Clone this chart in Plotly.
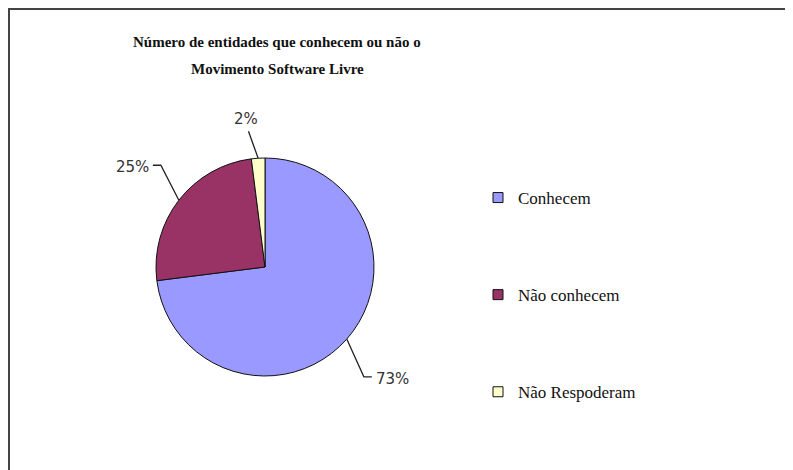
import math
import plotly.graph_objects as go

# ---- data ----
labels = ["Conhecem", "Não conhecem", "Não Respoderam"]
values = [73, 25, 2]
colors = ["#9999FF", "#993366", "#FFFFCC"]
title_lines = ["Número de entidades que conhecem ou não o", "Movimento Software Livre"]

# page body has an 8px margin, so the figure is drawn 8px in from the window corner
OFF = 8
FW, FH = 793 - OFF, 470 - OFF
CX, CY, R = 265, 267, 109  # pie centre / radius in window pixels

SERIF = "Liberation Serif, Times New Roman, DejaVu Serif, serif"


def px(x):
    return (x - OFF) / FW


def py(y):
    return 1 - (y - OFF) / FH


fig = go.Figure()
fig.add_trace(go.Pie(
    labels=labels, values=values, sort=False, direction="clockwise", rotation=0,
    marker=dict(colors=colors, line=dict(color="#111111", width=1)),
    textinfo="none", hoverinfo="label+percent", showlegend=False,
    domain=dict(x=[px(CX - R), px(CX + R)], y=[py(CY + R), py(CY - R)]),
))

# legend entries (one group each so they can be spaced apart)
for lab, col in zip(labels, colors):
    fig.add_trace(go.Scatter(
        x=[None], y=[None], mode="markers", name=lab, legendgroup=lab,
        marker=dict(symbol="square", size=10, color=col, line=dict(color="#111111", width=1)),
    ))

# percentage labels with leader lines, derived from the values
total = sum(values)
cum = 0
shapes = []
annotations = []
for v in values:
    mid = (cum + v / 2) / total * 2 * math.pi
    cum += v
    sx, sy = math.sin(mid), -math.cos(mid)
    x0, y0 = CX + R * sx, CY + R * sy
    side = 1 if sx >= 0.2 else (-1 if sx <= -0.2 else 0)
    L = 57 if side != 0 else 27
    x1, y1 = x0 + L * 0.4 * sx - (9 if side == 0 else 0), y0 + L * sy
    x2 = x1 + 8 * side
    shapes.append(dict(type="path", xref="paper", yref="paper",
                       path=f"M {px(x0)} {py(y0)} L {px(x1)} {py(y1)} L {px(x2)} {py(y1)}",
                       line=dict(color="#222222", width=1.3)))
    txt = f"{round(v / total * 100)}%"
    if side == 0:
        annotations.append(dict(x=px(x1 - 2), y=py(y1 - 12), xref="paper", yref="paper",
                                text=txt, showarrow=False, xanchor="center", yanchor="middle"))
    else:
        annotations.append(dict(x=px(x2 + 2 * side), y=py(y1 + 2), xref="paper", yref="paper",
                                text=txt, showarrow=False,
                                xanchor="left" if side > 0 else "right", yanchor="middle"))
for a in annotations:
    a["font"] = dict(family="DejaVu Sans", size=15, color="#333333")

# title, two lines
for i, line in enumerate(title_lines):
    annotations.append(dict(x=px(277), y=py(42 + 27 * i), xref="paper", yref="paper",
                            text=f"<b>{line}</b>", showarrow=False,
                            xanchor="center", yanchor="middle",
                            font=dict(family=SERIF, size=15, color="#111111")))

# outer chart border (right/bottom edges lie outside the picture)
shapes.append(dict(type="rect", xref="paper", yref="paper",
                   x0=px(9), y0=-0.2, x1=1.2, y1=py(9),
                   line=dict(color="#444444", width=2)))

fig.update_layout(
    width=FW, height=FH,
    margin=dict(l=0, r=0, t=0, b=0),
    paper_bgcolor="white", plot_bgcolor="white",
    xaxis=dict(visible=False, domain=[0.9, 1.0]),
    yaxis=dict(visible=False),
    legend=dict(x=px(478), y=py(180), xanchor="left", yanchor="top",
                font=dict(family=SERIF, size=17, color="#111111"),
                tracegroupgap=72, bgcolor="rgba(0,0,0,0)"),
    shapes=shapes, annotations=annotations,
)

fig.write_html("out.html")
